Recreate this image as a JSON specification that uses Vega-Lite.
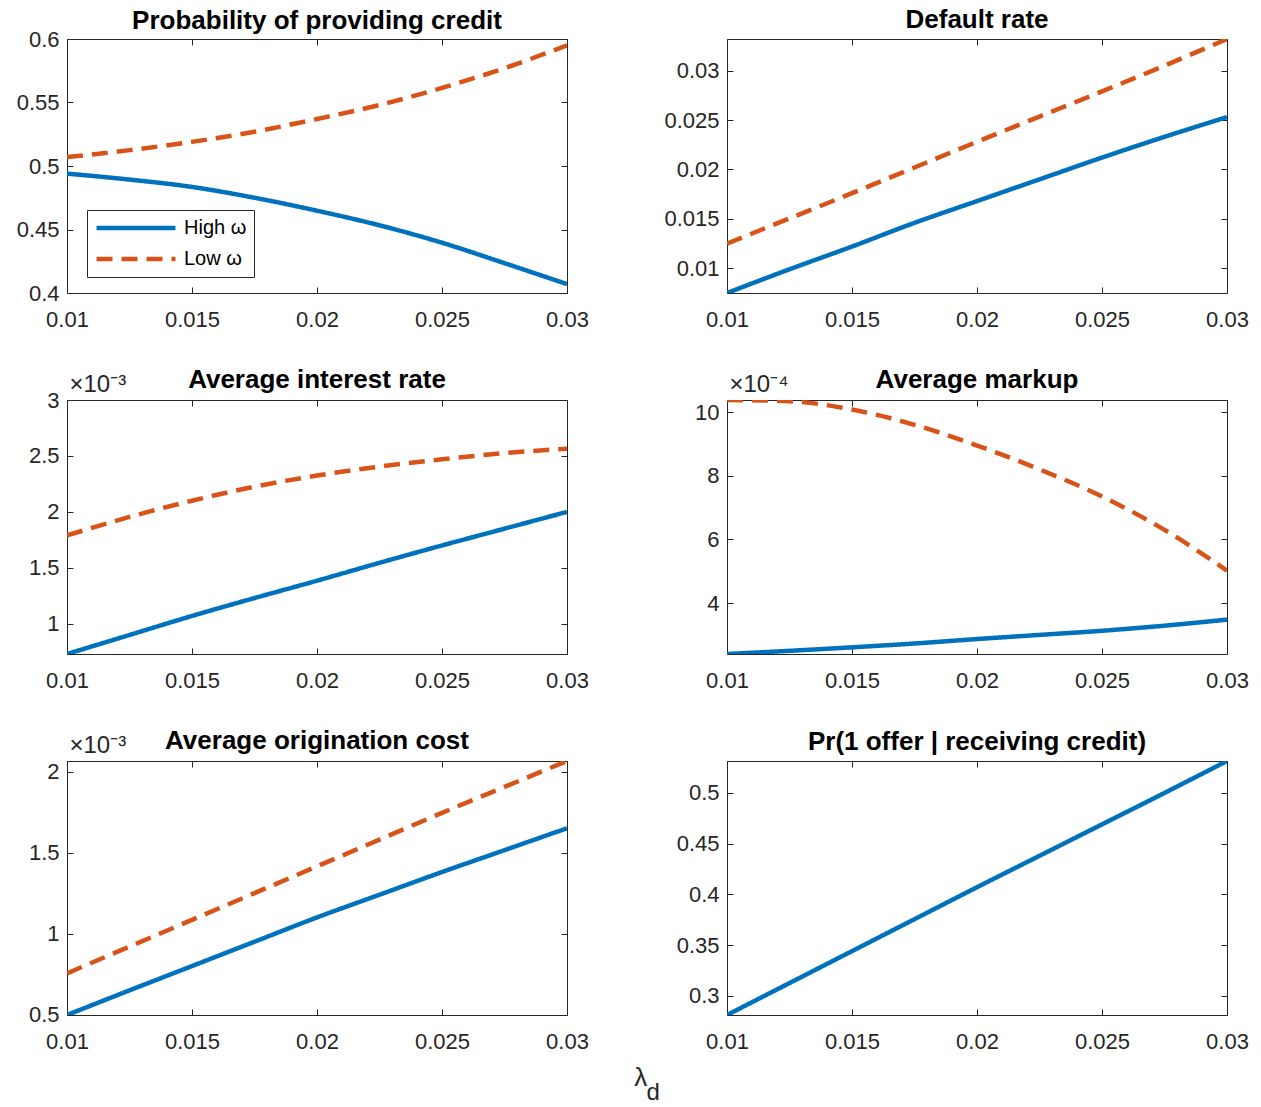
{
  "$schema": "https://vega.github.io/schema/vega-lite/v6.json",
  "background": "white",
  "padding": {"left": 15, "top": 6, "right": 5, "bottom": 0},
  "config": {
    "font": "Liberation Sans",
    "view": {"stroke": "#262626", "strokeWidth": 1},
    "axis": {"grid": false, "domain": false, "tickSize": -6, "tickColor": "#262626", "tickWidth": 1, "labelColor": "#262626", "labelFontSize": 22, "labelFont": "Liberation Sans", "labelFlush": false, "labelOverlap": false},
    "axisX": {"labelPadding": 22},
    "axisY": {"labelPadding": 14},
    "title": {"fontSize": 26, "fontWeight": "bold", "color": "#000000", "font": "Liberation Sans", "baseline": "alphabetic", "offset": 11, "frame": "group"}
  },
  "data": {"values": [
    {"panel": "credit", "lambda": 0.01, "series": "High ω", "value": 0.494},
    {"panel": "credit", "lambda": 0.0125, "series": "High ω", "value": 0.4893},
    {"panel": "credit", "lambda": 0.015, "series": "High ω", "value": 0.4835},
    {"panel": "credit", "lambda": 0.0175, "series": "High ω", "value": 0.475},
    {"panel": "credit", "lambda": 0.02, "series": "High ω", "value": 0.4648},
    {"panel": "credit", "lambda": 0.0225, "series": "High ω", "value": 0.4533},
    {"panel": "credit", "lambda": 0.025, "series": "High ω", "value": 0.4396},
    {"panel": "credit", "lambda": 0.0275, "series": "High ω", "value": 0.4235},
    {"panel": "credit", "lambda": 0.03, "series": "High ω", "value": 0.407},
    {"panel": "credit", "lambda": 0.01, "series": "Low ω", "value": 0.507},
    {"panel": "credit", "lambda": 0.0125, "series": "Low ω", "value": 0.5125},
    {"panel": "credit", "lambda": 0.015, "series": "Low ω", "value": 0.519},
    {"panel": "credit", "lambda": 0.0175, "series": "Low ω", "value": 0.527},
    {"panel": "credit", "lambda": 0.02, "series": "Low ω", "value": 0.537},
    {"panel": "credit", "lambda": 0.0225, "series": "Low ω", "value": 0.548},
    {"panel": "credit", "lambda": 0.025, "series": "Low ω", "value": 0.5615},
    {"panel": "credit", "lambda": 0.0275, "series": "Low ω", "value": 0.577},
    {"panel": "credit", "lambda": 0.03, "series": "Low ω", "value": 0.595},
    {"panel": "default", "lambda": 0.01, "series": "High ω", "value": 0.0075},
    {"panel": "default", "lambda": 0.0125, "series": "High ω", "value": 0.0099},
    {"panel": "default", "lambda": 0.015, "series": "High ω", "value": 0.0122},
    {"panel": "default", "lambda": 0.0175, "series": "High ω", "value": 0.0146},
    {"panel": "default", "lambda": 0.02, "series": "High ω", "value": 0.0168},
    {"panel": "default", "lambda": 0.0225, "series": "High ω", "value": 0.019},
    {"panel": "default", "lambda": 0.025, "series": "High ω", "value": 0.0212},
    {"panel": "default", "lambda": 0.0275, "series": "High ω", "value": 0.0233},
    {"panel": "default", "lambda": 0.03, "series": "High ω", "value": 0.0253},
    {"panel": "default", "lambda": 0.01, "series": "Low ω", "value": 0.0125},
    {"panel": "default", "lambda": 0.0125, "series": "Low ω", "value": 0.01505},
    {"panel": "default", "lambda": 0.015, "series": "Low ω", "value": 0.0176},
    {"panel": "default", "lambda": 0.0175, "series": "Low ω", "value": 0.0202},
    {"panel": "default", "lambda": 0.02, "series": "Low ω", "value": 0.0228},
    {"panel": "default", "lambda": 0.0225, "series": "Low ω", "value": 0.02535},
    {"panel": "default", "lambda": 0.025, "series": "Low ω", "value": 0.0279},
    {"panel": "default", "lambda": 0.0275, "series": "Low ω", "value": 0.0305},
    {"panel": "default", "lambda": 0.03, "series": "Low ω", "value": 0.0332},
    {"panel": "interest", "lambda": 0.01, "series": "High ω", "value": 0.00073},
    {"panel": "interest", "lambda": 0.0125, "series": "High ω", "value": 0.0009},
    {"panel": "interest", "lambda": 0.015, "series": "High ω", "value": 0.00107},
    {"panel": "interest", "lambda": 0.0175, "series": "High ω", "value": 0.00123},
    {"panel": "interest", "lambda": 0.02, "series": "High ω", "value": 0.001385},
    {"panel": "interest", "lambda": 0.0225, "series": "High ω", "value": 0.001545},
    {"panel": "interest", "lambda": 0.025, "series": "High ω", "value": 0.0017},
    {"panel": "interest", "lambda": 0.0275, "series": "High ω", "value": 0.00185},
    {"panel": "interest", "lambda": 0.03, "series": "High ω", "value": 0.002},
    {"panel": "interest", "lambda": 0.01, "series": "Low ω", "value": 0.00179},
    {"panel": "interest", "lambda": 0.0125, "series": "Low ω", "value": 0.001955},
    {"panel": "interest", "lambda": 0.015, "series": "Low ω", "value": 0.0021},
    {"panel": "interest", "lambda": 0.0175, "series": "Low ω", "value": 0.002225},
    {"panel": "interest", "lambda": 0.02, "series": "Low ω", "value": 0.002325},
    {"panel": "interest", "lambda": 0.0225, "series": "Low ω", "value": 0.002405},
    {"panel": "interest", "lambda": 0.025, "series": "Low ω", "value": 0.00247},
    {"panel": "interest", "lambda": 0.0275, "series": "Low ω", "value": 0.002525},
    {"panel": "interest", "lambda": 0.03, "series": "Low ω", "value": 0.002565},
    {"panel": "markup", "lambda": 0.01, "series": "High ω", "value": 0.00024},
    {"panel": "markup", "lambda": 0.0125, "series": "High ω", "value": 0.00025},
    {"panel": "markup", "lambda": 0.015, "series": "High ω", "value": 0.000261},
    {"panel": "markup", "lambda": 0.0175, "series": "High ω", "value": 0.000273},
    {"panel": "markup", "lambda": 0.02, "series": "High ω", "value": 0.000287},
    {"panel": "markup", "lambda": 0.0225, "series": "High ω", "value": 0.0003},
    {"panel": "markup", "lambda": 0.025, "series": "High ω", "value": 0.000313},
    {"panel": "markup", "lambda": 0.0275, "series": "High ω", "value": 0.000329},
    {"panel": "markup", "lambda": 0.03, "series": "High ω", "value": 0.000348},
    {"panel": "markup", "lambda": 0.01, "series": "Low ω", "value": 0.001038},
    {"panel": "markup", "lambda": 0.0125, "series": "Low ω", "value": 0.001034},
    {"panel": "markup", "lambda": 0.015, "series": "Low ω", "value": 0.001008},
    {"panel": "markup", "lambda": 0.0175, "series": "Low ω", "value": 0.00096},
    {"panel": "markup", "lambda": 0.02, "series": "Low ω", "value": 0.000895},
    {"panel": "markup", "lambda": 0.0225, "series": "Low ω", "value": 0.00082},
    {"panel": "markup", "lambda": 0.025, "series": "Low ω", "value": 0.000735},
    {"panel": "markup", "lambda": 0.0275, "series": "Low ω", "value": 0.00063},
    {"panel": "markup", "lambda": 0.03, "series": "Low ω", "value": 0.000502},
    {"panel": "origination", "lambda": 0.01, "series": "High ω", "value": 0.000498},
    {"panel": "origination", "lambda": 0.0125, "series": "High ω", "value": 0.00065},
    {"panel": "origination", "lambda": 0.015, "series": "High ω", "value": 0.0008},
    {"panel": "origination", "lambda": 0.0175, "series": "High ω", "value": 0.00095},
    {"panel": "origination", "lambda": 0.02, "series": "High ω", "value": 0.0011},
    {"panel": "origination", "lambda": 0.0225, "series": "High ω", "value": 0.00124},
    {"panel": "origination", "lambda": 0.025, "series": "High ω", "value": 0.00138},
    {"panel": "origination", "lambda": 0.0275, "series": "High ω", "value": 0.001515},
    {"panel": "origination", "lambda": 0.03, "series": "High ω", "value": 0.00165},
    {"panel": "origination", "lambda": 0.01, "series": "Low ω", "value": 0.000755},
    {"panel": "origination", "lambda": 0.0125, "series": "Low ω", "value": 0.00092},
    {"panel": "origination", "lambda": 0.015, "series": "Low ω", "value": 0.001085},
    {"panel": "origination", "lambda": 0.0175, "series": "Low ω", "value": 0.00125},
    {"panel": "origination", "lambda": 0.02, "series": "Low ω", "value": 0.001415},
    {"panel": "origination", "lambda": 0.0225, "series": "Low ω", "value": 0.00158},
    {"panel": "origination", "lambda": 0.025, "series": "Low ω", "value": 0.001745},
    {"panel": "origination", "lambda": 0.0275, "series": "Low ω", "value": 0.001905},
    {"panel": "origination", "lambda": 0.03, "series": "Low ω", "value": 0.002065},
    {"panel": "oneoffer", "lambda": 0.01, "series": "High ω", "value": 0.281},
    {"panel": "oneoffer", "lambda": 0.0125, "series": "High ω", "value": 0.3125},
    {"panel": "oneoffer", "lambda": 0.015, "series": "High ω", "value": 0.344},
    {"panel": "oneoffer", "lambda": 0.0175, "series": "High ω", "value": 0.3755},
    {"panel": "oneoffer", "lambda": 0.02, "series": "High ω", "value": 0.407},
    {"panel": "oneoffer", "lambda": 0.0225, "series": "High ω", "value": 0.438},
    {"panel": "oneoffer", "lambda": 0.025, "series": "High ω", "value": 0.469},
    {"panel": "oneoffer", "lambda": 0.0275, "series": "High ω", "value": 0.5},
    {"panel": "oneoffer", "lambda": 0.03, "series": "High ω", "value": 0.5315}
  ]},
  "columns": 2,
  "spacing": {"row": 107, "column": 160},
  "bounds": "flush",
  "resolve": {"scale": {"color": "independent", "strokeDash": "independent"}},
  "title": {"text": "λ\u2002\u200b", "subtitle": "\u200b\u2002d", "orient": "bottom", "anchor": "middle", "frame": "bounds", "fontSize": 26, "fontWeight": "normal", "color": "#262626", "subtitleFontSize": 24, "subtitleColor": "#262626", "subtitleFont": "Liberation Sans", "subtitlePadding": -10, "offset": 12, "dx": 15, "baseline": "top"},
  "concat": [
    {
      "width": 500, "height": 254,
      "title": {"text": "Probability of providing credit", "dy": 16.5},
      "transform": [{"filter": "datum.panel === 'credit'"}],
      "layer": [
        {"mark": {"type": "line", "strokeWidth": 4.5, "clip": true, "interpolate": "monotone"},
         "encoding": {
           "x": {"field": "lambda", "type": "quantitative", "scale": {"domain": [0.01, 0.03], "nice": false, "zero": false}, "axis": {"orient": "bottom", "values": [0.01, 0.015, 0.02, 0.025, 0.03], "format": "~g", "title": null}},
           "y": {"field": "value", "type": "quantitative", "scale": {"domain": [0.4, 0.6], "nice": false, "zero": false}, "axis": {"orient": "left", "values": [0.4, 0.45, 0.5, 0.55, 0.6], "format": "~g", "title": null}},
           "color": {"field": "series", "type": "nominal", "scale": {"domain": ["High ω", "Low ω"], "range": ["#0072BD", "#D95319"]},
             "legend": {"orient": "none", "legendX": 20, "legendY": 171, "title": null, "strokeColor": "#262626", "fillColor": "white", "padding": 7, "symbolType": "stroke", "symbolSize": 6241, "symbolStrokeWidth": 4.5, "labelFontSize": 20, "labelColor": "#000000", "labelFont": "Liberation Sans", "labelOffset": 6, "rowPadding": 9, "clipHeight": 22}},
           "strokeDash": {"field": "series", "type": "nominal", "scale": {"domain": ["High ω", "Low ω"], "range": [[1, 0], [16, 9]]}, "legend": {"orient": "none", "legendX": 20, "legendY": 171, "title": null, "strokeColor": "#262626", "fillColor": "white", "padding": 7, "symbolType": "stroke", "symbolSize": 6241, "symbolStrokeWidth": 4.5, "labelFontSize": 20, "labelColor": "#000000", "labelFont": "Liberation Sans", "labelOffset": 6, "rowPadding": 9, "clipHeight": 22}}
         }},
        {"mark": {"type": "line", "strokeOpacity": 0},
         "encoding": {
           "x": {"field": "lambda", "type": "quantitative", "scale": {"domain": [0.01, 0.03], "nice": false, "zero": false}, "axis": {"orient": "top", "values": [0.01, 0.015, 0.02, 0.025, 0.03], "labels": false, "title": null}},
           "y": {"field": "value", "type": "quantitative", "scale": {"domain": [0.4, 0.6], "nice": false, "zero": false}, "axis": {"orient": "right", "values": [0.4, 0.45, 0.5, 0.55, 0.6], "labels": false, "title": null}}
         }}
      ],
      "resolve": {"axis": {"x": "independent", "y": "independent"}}
    },
    {
      "width": 500, "height": 254,
      "title": {"text": "Default rate", "dy": 5.5},
      "transform": [{"filter": "datum.panel === 'default'"}],
      "layer": [
        {"mark": {"type": "line", "strokeWidth": 4.5, "clip": true, "interpolate": "monotone"},
         "encoding": {
           "x": {"field": "lambda", "type": "quantitative", "scale": {"domain": [0.01, 0.03], "nice": false, "zero": false}, "axis": {"orient": "bottom", "values": [0.01, 0.015, 0.02, 0.025, 0.03], "format": "~g", "title": null}},
           "y": {"field": "value", "type": "quantitative", "scale": {"domain": [0.0075, 0.0332], "nice": false, "zero": false}, "axis": {"orient": "left", "values": [0.01, 0.015, 0.02, 0.025, 0.03], "format": "~g", "title": null}},
           "color": {"field": "series", "type": "nominal", "scale": {"domain": ["High ω", "Low ω"], "range": ["#0072BD", "#D95319"]}, "legend": null},
           "strokeDash": {"field": "series", "type": "nominal", "scale": {"domain": ["High ω", "Low ω"], "range": [[1, 0], [16, 9]]}, "legend": null}
         }},
        {"mark": {"type": "line", "strokeOpacity": 0},
         "encoding": {
           "x": {"field": "lambda", "type": "quantitative", "scale": {"domain": [0.01, 0.03], "nice": false, "zero": false}, "axis": {"orient": "top", "values": [0.01, 0.015, 0.02, 0.025, 0.03], "labels": false, "title": null}},
           "y": {"field": "value", "type": "quantitative", "scale": {"domain": [0.0075, 0.0332], "nice": false, "zero": false}, "axis": {"orient": "right", "values": [0.01, 0.015, 0.02, 0.025, 0.03], "labels": false, "title": null}}
         }}
      ],
      "resolve": {"axis": {"x": "independent", "y": "independent"}}
    },
    {
      "width": 500, "height": 254,
      "title": {"text": "Average interest rate", "dy": 32},
      "transform": [{"filter": "datum.panel === 'interest'"}],
      "layer": [
        {"mark": {"type": "line", "strokeWidth": 4.5, "clip": true, "interpolate": "monotone"},
         "encoding": {
           "x": {"field": "lambda", "type": "quantitative", "scale": {"domain": [0.01, 0.03], "nice": false, "zero": false}, "axis": {"orient": "bottom", "values": [0.01, 0.015, 0.02, 0.025, 0.03], "format": "~g", "title": null}},
           "y": {"field": "value", "type": "quantitative", "scale": {"domain": [0.00073, 0.003], "nice": false, "zero": false}, "axis": {"orient": "left", "values": [0.001, 0.0015, 0.002, 0.0025, 0.003], "labelExpr": "format(datum.value * 1000, '~g')", "title": "×10⁻³", "titleAngle": 0, "titleX": 2, "titleY": -9, "titleAlign": "left", "titleBaseline": "alphabetic", "titleFontSize": 24, "titleFontWeight": "normal", "titleColor": "#262626", "titleFont": "Liberation Sans"}},
           "color": {"field": "series", "type": "nominal", "scale": {"domain": ["High ω", "Low ω"], "range": ["#0072BD", "#D95319"]}, "legend": null},
           "strokeDash": {"field": "series", "type": "nominal", "scale": {"domain": ["High ω", "Low ω"], "range": [[1, 0], [16, 9]]}, "legend": null}
         }},
        {"mark": {"type": "line", "strokeOpacity": 0},
         "encoding": {
           "x": {"field": "lambda", "type": "quantitative", "scale": {"domain": [0.01, 0.03], "nice": false, "zero": false}, "axis": {"orient": "top", "values": [0.01, 0.015, 0.02, 0.025, 0.03], "labels": false, "title": null}},
           "y": {"field": "value", "type": "quantitative", "scale": {"domain": [0.00073, 0.003], "nice": false, "zero": false}, "axis": {"orient": "right", "values": [0.001, 0.0015, 0.002, 0.0025, 0.003], "labels": false, "title": null}}
         }}
      ],
      "resolve": {"axis": {"x": "independent", "y": "independent"}}
    },
    {
      "width": 500, "height": 254,
      "title": {"text": "Average markup", "dy": 32},
      "transform": [{"filter": "datum.panel === 'markup'"}],
      "layer": [
        {"mark": {"type": "line", "strokeWidth": 4.5, "clip": true, "interpolate": "monotone"},
         "encoding": {
           "x": {"field": "lambda", "type": "quantitative", "scale": {"domain": [0.01, 0.03], "nice": false, "zero": false}, "axis": {"orient": "bottom", "values": [0.01, 0.015, 0.02, 0.025, 0.03], "format": "~g", "title": null}},
           "y": {"field": "value", "type": "quantitative", "scale": {"domain": [0.00024, 0.001038], "nice": false, "zero": false}, "axis": {"orient": "left", "values": [0.0004, 0.0006, 0.0008, 0.001], "labelExpr": "format(datum.value * 10000, '~g')", "title": "×10⁻⁴", "titleAngle": 0, "titleX": 2, "titleY": -9, "titleAlign": "left", "titleBaseline": "alphabetic", "titleFontSize": 24, "titleFontWeight": "normal", "titleColor": "#262626", "titleFont": "Liberation Sans"}},
           "color": {"field": "series", "type": "nominal", "scale": {"domain": ["High ω", "Low ω"], "range": ["#0072BD", "#D95319"]}, "legend": null},
           "strokeDash": {"field": "series", "type": "nominal", "scale": {"domain": ["High ω", "Low ω"], "range": [[1, 0], [16, 9]]}, "legend": null}
         }},
        {"mark": {"type": "line", "strokeOpacity": 0},
         "encoding": {
           "x": {"field": "lambda", "type": "quantitative", "scale": {"domain": [0.01, 0.03], "nice": false, "zero": false}, "axis": {"orient": "top", "values": [0.01, 0.015, 0.02, 0.025, 0.03], "labels": false, "title": null}},
           "y": {"field": "value", "type": "quantitative", "scale": {"domain": [0.00024, 0.001038], "nice": false, "zero": false}, "axis": {"orient": "right", "values": [0.0004, 0.0006, 0.0008, 0.001], "labels": false, "title": null}}
         }}
      ],
      "resolve": {"axis": {"x": "independent", "y": "independent"}}
    },
    {
      "width": 500, "height": 254,
      "title": {"text": "Average origination cost", "dy": 32},
      "transform": [{"filter": "datum.panel === 'origination'"}],
      "layer": [
        {"mark": {"type": "line", "strokeWidth": 4.5, "clip": true, "interpolate": "monotone"},
         "encoding": {
           "x": {"field": "lambda", "type": "quantitative", "scale": {"domain": [0.01, 0.03], "nice": false, "zero": false}, "axis": {"orient": "bottom", "values": [0.01, 0.015, 0.02, 0.025, 0.03], "format": "~g", "title": null}},
           "y": {"field": "value", "type": "quantitative", "scale": {"domain": [0.000498, 0.002065], "nice": false, "zero": false}, "axis": {"orient": "left", "values": [0.0005, 0.001, 0.0015, 0.002], "labelExpr": "format(datum.value * 1000, '~g')", "title": "×10⁻³", "titleAngle": 0, "titleX": 2, "titleY": -9, "titleAlign": "left", "titleBaseline": "alphabetic", "titleFontSize": 24, "titleFontWeight": "normal", "titleColor": "#262626", "titleFont": "Liberation Sans"}},
           "color": {"field": "series", "type": "nominal", "scale": {"domain": ["High ω", "Low ω"], "range": ["#0072BD", "#D95319"]}, "legend": null},
           "strokeDash": {"field": "series", "type": "nominal", "scale": {"domain": ["High ω", "Low ω"], "range": [[1, 0], [16, 9]]}, "legend": null}
         }},
        {"mark": {"type": "line", "strokeOpacity": 0},
         "encoding": {
           "x": {"field": "lambda", "type": "quantitative", "scale": {"domain": [0.01, 0.03], "nice": false, "zero": false}, "axis": {"orient": "top", "values": [0.01, 0.015, 0.02, 0.025, 0.03], "labels": false, "title": null}},
           "y": {"field": "value", "type": "quantitative", "scale": {"domain": [0.000498, 0.002065], "nice": false, "zero": false}, "axis": {"orient": "right", "values": [0.0005, 0.001, 0.0015, 0.002], "labels": false, "title": null}}
         }}
      ],
      "resolve": {"axis": {"x": "independent", "y": "independent"}}
    },
    {
      "width": 500, "height": 254,
      "title": {"text": "Pr(1 offer | receiving credit)", "dy": 5.5},
      "transform": [{"filter": "datum.panel === 'oneoffer'"}],
      "layer": [
        {"mark": {"type": "line", "strokeWidth": 4.5, "clip": true, "interpolate": "monotone"},
         "encoding": {
           "x": {"field": "lambda", "type": "quantitative", "scale": {"domain": [0.01, 0.03], "nice": false, "zero": false}, "axis": {"orient": "bottom", "values": [0.01, 0.015, 0.02, 0.025, 0.03], "format": "~g", "title": null}},
           "y": {"field": "value", "type": "quantitative", "scale": {"domain": [0.281, 0.5315], "nice": false, "zero": false}, "axis": {"orient": "left", "values": [0.3, 0.35, 0.4, 0.45, 0.5], "format": "~g", "title": null}},
           "color": {"field": "series", "type": "nominal", "scale": {"domain": ["High ω", "Low ω"], "range": ["#0072BD", "#D95319"]}, "legend": null},
           "strokeDash": {"field": "series", "type": "nominal", "scale": {"domain": ["High ω", "Low ω"], "range": [[1, 0], [16, 9]]}, "legend": null}
         }},
        {"mark": {"type": "line", "strokeOpacity": 0},
         "encoding": {
           "x": {"field": "lambda", "type": "quantitative", "scale": {"domain": [0.01, 0.03], "nice": false, "zero": false}, "axis": {"orient": "top", "values": [0.01, 0.015, 0.02, 0.025, 0.03], "labels": false, "title": null}},
           "y": {"field": "value", "type": "quantitative", "scale": {"domain": [0.281, 0.5315], "nice": false, "zero": false}, "axis": {"orient": "right", "values": [0.3, 0.35, 0.4, 0.45, 0.5], "labels": false, "title": null}}
         }}
      ],
      "resolve": {"axis": {"x": "independent", "y": "independent"}}
    }
  ]
}
